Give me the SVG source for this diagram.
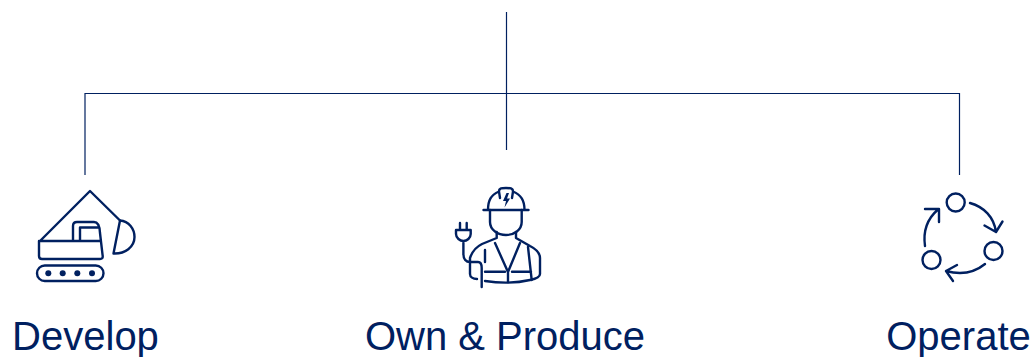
<svg xmlns="http://www.w3.org/2000/svg" width="1035" height="357" viewBox="0 0 1035 357">
<style>
.c{fill:none;stroke:#002060;stroke-width:1.2}
.i{fill:none;stroke:#002060;stroke-width:2.4;stroke-linecap:round;stroke-linejoin:round}
.d{fill:#002060}
text{font-family:"Liberation Sans",Arial,sans-serif;font-size:40px;fill:#002060;text-anchor:middle}
</style>
<rect width="1035" height="357" fill="#fff"/>
<g id="connectors">
<path class="c" d="M506.500 12V150"/>
<path class="c" d="M85 175V93.500H959.500V175"/>
</g>
<g id="develop">
<path class="i" d="M40 241L90 191L120 220.500M39 241H100M39 241V256Q39 259 42 259H100Q103 259 102.700 256L100 233Q99.500 222 94 222H77Q73 222 73 226V241M80 241V227.500H99"/>
<path class="i" d="M120 220.500C129 221 134.500 229 134.500 237C134.500 247 125 254 113.500 253.500Z"/>
<rect class="i" x="37" y="265.500" width="66.500" height="15.500" rx="7.750"/>
<circle class="d" cx="48.300" cy="273.300" r="3"/><circle class="d" cx="62.700" cy="273.300" r="3"/><circle class="d" cx="77.300" cy="273.300" r="3"/><circle class="d" cx="92" cy="273.300" r="3"/>
<text x="85.500" y="350">Develop</text>
</g>
<g id="own-produce">
<path class="i" d="M483.500 210H528.500M488 210C488 200 491 195 499 191.500C499 188 502 188 506 188C510 188 513 188 513 191.500C521 195 524.500 200 524.500 210M499 191.500L500 198M513 191.500L512 198"/>
<path class="d" d="M506.500 193L503 201H506L504.500 207.500L510 198.500H507L509 193Z"/>
<path class="i" d="M490 210V222C490 230 498 235 506 235C514 235 521.700 230 521.700 222V210"/>
<path class="i" d="M496.700 232V238L482 244C476 247 472 252 470 258V274C470 277 473 279 477 279M516 232V238L530 246C536 249 540 252 540 258V274C540 277 535 279 530 280C515 283.500 498 283 485 281"/>
<path class="i" d="M495 243L508 272V282M520 243L508 272M485 250L485 262M528 247L531.700 280M485 271.700H505M512 271.700H531"/>
<path class="i" d="M460 223V230M466.700 223V230M456 230H470.700V234C470.700 238 467 241 463.400 241C460 241 456 238 456 234ZM463.400 241V254C463.400 259 466 262 470 262H478C481 262 481.700 265 481.700 268V287"/>
<text x="505" y="350">Own &amp; Produce</text>
</g>
<g id="operate">
<circle class="i" cx="955.700" cy="202.500" r="9"/>
<circle class="i" cx="993.500" cy="251" r="9"/>
<circle class="i" cx="931.500" cy="260" r="9"/>
<path class="i" d="M970 203C984 207 994 217 996 232M984.500 225.500L996 232L1002.500 221.500"/>
<path class="i" d="M985 264C974 273 961 275 946 271M957 265L946 271L953 281"/>
<path class="i" d="M925 246C923 232 927 219 938 209.500M925 209L939 209L939 222"/>
<text x="958.500" y="350">Operate</text>
</g>
</svg>
